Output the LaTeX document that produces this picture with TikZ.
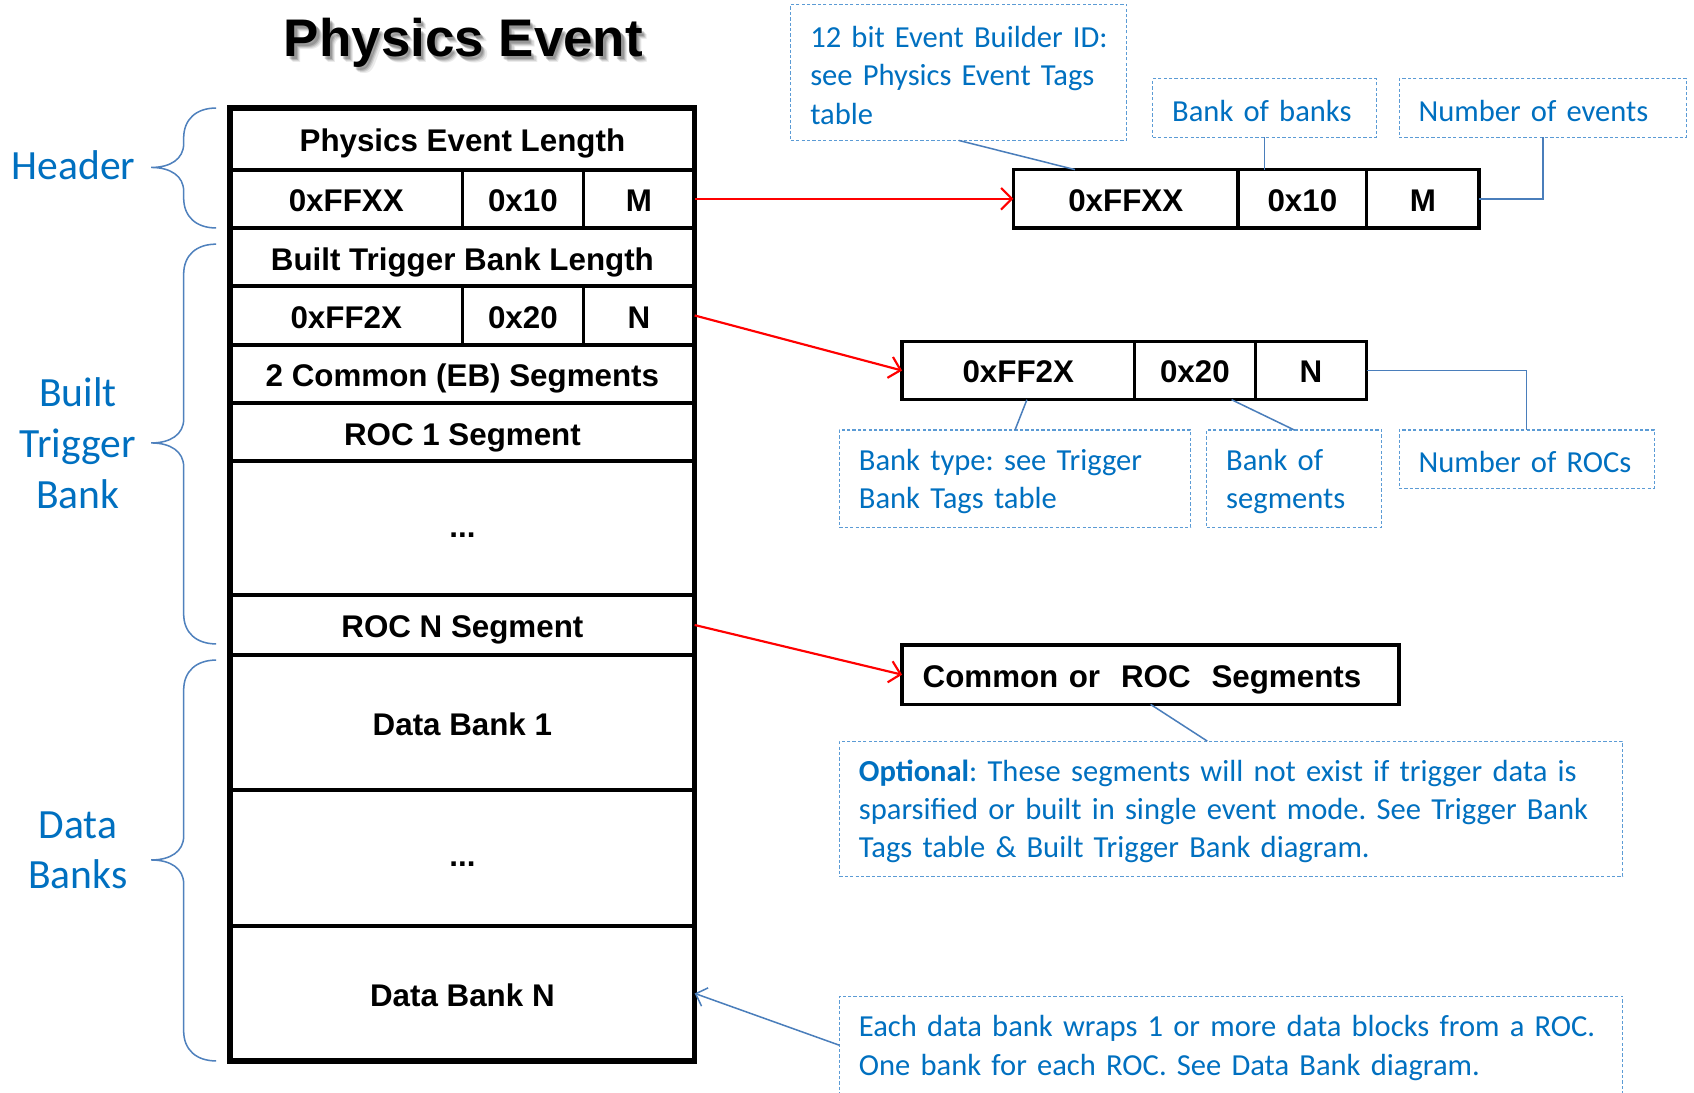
\documentclass[tikz,border=0pt]{standalone}
\usepackage{fontspec}
\usetikzlibrary{arrows.meta,shadows,fit,backgrounds}
\newfontfamily\boxfont{Liberation Sans}
\newfontfamily\notefont{Carlito}
\definecolor{notetext}{HTML}{0070C0}
\definecolor{noteedge}{HTML}{5B9BD5}
\definecolor{leader}{HTML}{4A7EBB}
\definecolor{bracecol}{HTML}{4F81BD}
\definecolor{arrowred}{HTML}{FF0000}

% left curly brace with its tip pointing left: top y, bottom y, tip y
\newcommand\sidebrace[3]{%
  \draw[bracecol, line width=1.4pt]
    (200,#1) .. controls (182,#1) and (170,{#1+10}) .. (170,{#1+28})
    -- (170,{#3-22}) .. controls (170,{#3-8}) and (158,#3) .. (140,#3)
    .. controls (158,#3) and (170,{#3+8}) .. (170,{#3+22})
    -- (170,{#2-28}) .. controls (170,{#2-10}) and (182,#2) .. (200,#2);}

\begin{document}
\frenchspacing
\begin{tikzpicture}[x=1pt,y=-1pt,
  cell/.style={draw, line width=3.5pt, inner sep=0pt, outer sep=0pt,
    text height=24pt, text depth=0pt,
    font=\boxfont\bfseries\fontsize{29}{34}\selectfont},
  dots/.style={text height=17pt},
  fieldbox/.style={draw, line width=3pt, inner sep=0pt, outer sep=0pt,
    text height=23pt, text depth=0pt,
    font=\boxfont\bfseries\fontsize{29}{34}\selectfont},
  note/.style={draw=noteedge, line width=1pt, dash pattern=on 3pt off 2pt,
    text=notetext, font=\notefont\fontsize{28.3}{35.5}\selectfont,
    align=left, inner xsep=18pt, inner ysep=0pt, outer sep=0pt, anchor=north west,
    execute at begin node={\rule{0pt}{25pt}}},
  sidelabel/.style={text=notetext, align=center,
    font=\notefont\fontsize{38.5}{47}\selectfont},
  pointer/.style={arrowred, line width=2pt,
    -{Straight Barb[length=10pt,width=20pt,line width=2pt]}},
  leaderline/.style={leader, line width=1.4pt},
  titletext/.style={font=\boxfont\bfseries\fontsize{49}{56}\selectfont}
]
\fill[white] (0,0) rectangle (1568,1011);
\useasboundingbox (0,0) rectangle (1568,1011);

% title with a soft shadow
\foreach \d/\o in {5/0.08,4/0.10,3/0.14,2/0.16}
  \node[titletext, text=black, opacity=\o, name=tshadow\d] at ({429+\d},{40+\d}) {Physics Event};
\node[titletext] (title) at (429,40) {Physics Event};

% ---- physics event layout ----
\node[cell, minimum width=430pt, minimum height=57pt] (r1) at (428,128.5) {Physics Event Length};
\node[cell, minimum width=215pt, minimum height=54pt] (r2a) at (320.5,184) {0xFFXX};
\node[cell, minimum width=112pt, minimum height=54pt] (r2b) at (484,184) {0x10};
\node[cell, minimum width=103pt, minimum height=54pt] (r2c) at (591.5,184) {M};
\node[cell, minimum width=430pt, minimum height=54pt] (r3) at (428,238) {Built Trigger Bank Length};
\node[cell, minimum width=215pt, minimum height=54pt] (r4a) at (320.5,292) {0xFF2X};
\node[cell, minimum width=112pt, minimum height=54pt] (r4b) at (484,292) {0x20};
\node[cell, minimum width=103pt, minimum height=54pt] (r4c) at (591.5,292) {N};
\node[cell, minimum width=430pt, minimum height=54pt] (r5) at (428,346) {2 Common (EB) Segments};
\node[cell, minimum width=430pt, minimum height=54pt] (r6) at (428,400) {ROC 1 Segment};
\node[cell, dots, minimum width=430pt, minimum height=124pt] (r7) at (428,489) {...};
\node[cell, minimum width=430pt, minimum height=55pt] (r8) at (428,578.5) {ROC N Segment};
\node[cell, minimum width=430pt, minimum height=125pt] (r9) at (428,668.5) {Data Bank 1};
\node[cell, dots, minimum width=430pt, minimum height=126pt] (r10) at (428,794) {...};
\node[cell, minimum width=430pt, minimum height=125pt] (r11) at (428,919.5) {Data Bank N};

\begin{pgfonlayer}{background}
  \node[fit=(r1)(r11), inner sep=0pt, fill=white,
    drop shadow={shadow xshift=5pt, shadow yshift=-5pt, opacity=0.35, fill=black!60}] (frameshadow) {};
\end{pgfonlayer}
\draw[line width=5pt] (r1.north west) rectangle (r11.south east);

% side labels and braces
\node[sidelabel] (hdr) at (68,153) {Header};
\node[sidelabel] (btb) at (72,410) {Built\\Trigger\\Bank};
\node[sidelabel] (dbk) at (72,787) {Data\\Banks};
\sidebrace{100}{211}{155}
\sidebrace{226}{596}{410}
\sidebrace{611}{982}{796}

% ---- event header word ----
\node[fieldbox, minimum width=208pt, minimum height=54pt] (a1) at (1042,184) {0xFFXX};
\node[fieldbox, minimum width=119pt, minimum height=54pt] (a2) at (1205.5,184) {0x10};
\node[fieldbox, minimum width=104pt, minimum height=54pt] (a3) at (1317,184) {M};

% ---- trigger bank header word ----
\node[fieldbox, minimum width=215pt, minimum height=54pt] (b1) at (942.5,343) {0xFF2X};
\node[fieldbox, minimum width=112pt, minimum height=54pt] (b2) at (1106,343) {0x20};
\node[fieldbox, minimum width=103pt, minimum height=54pt] (b3) at (1213.5,343) {N};

% ---- segments ----
\node[fieldbox, minimum width=460pt, minimum height=55pt, text width=422pt,
  align=left, inner xsep=19pt] (cseg) at (1065,624.5) {Common or~~ROC~~Segments};

% ---- notes ----
\node[note, text width=275pt, minimum height=126pt] (n1) at (732,4)
  {\mbox{12 bit Event Builder ID:}\\\mbox{see Physics Event Tags}\\\mbox{table}};
\node[note, text width=171pt, minimum height=54pt] (n2) at (1067,73) {\mbox{Bank of banks}};
\node[note, text width=230pt, minimum height=54pt] (n3) at (1295,73) {\mbox{Number of events}};
\node[note, text width=289pt, minimum height=90pt] (n4) at (777,398)
  {\mbox{Bank type: see Trigger}\\\mbox{Bank Tags table}};
\node[note, text width=126pt, minimum height=90pt] (n5) at (1117,398) {\mbox{Bank of}\\\mbox{segments}};
\node[note, text width=200pt, minimum height=54pt] (n6) at (1295,398) {\mbox{Number of ROCs}};
\node[note, text width=689pt, minimum height=125pt] (n7) at (777,686)
  {\mbox{\textbf{Optional}: These segments will not exist if trigger data is}\\
   \mbox{sparsified or built in single event mode. See Trigger Bank}\\
   \mbox{Tags table \& Built Trigger Bank diagram.}};
\node[note, text width=689pt, minimum height=91pt] (n8) at (777,922)
  {\mbox{Each data bank wraps 1 or more data blocks from a ROC.}\\
   \mbox{One bank for each ROC. See Data Bank diagram.}};

% ---- pointers ----
\draw[pointer] (r2c.east) -- (a1.west);
\draw[pointer] (r4c.east) -- (b1.west);
\draw[pointer] (r8.east) -- (cseg.west);

% ---- note leaders ----
\draw[leaderline] (n1.south) -- ([xshift=-47pt]a1.north);
\draw[leaderline] (n2.south) -- (n2.south |- a2.north);
\draw[leaderline] (a3.east) -| (n3.south);
\draw[leaderline] ([xshift=8pt]b1.south) -- (n4.north);
\draw[leaderline] ([xshift=34pt]b2.south) -- (n5.north);
\draw[leaderline] (b3.east) -| (n6.north);
\draw[leaderline] (cseg.south) -- ([xshift=-22pt]n7.north);
\draw[leaderline, -{Straight Barb[length=9pt,width=18pt,line width=1.4pt]}] (n8.west) -- (r11.east);
\end{tikzpicture}
\end{document}
